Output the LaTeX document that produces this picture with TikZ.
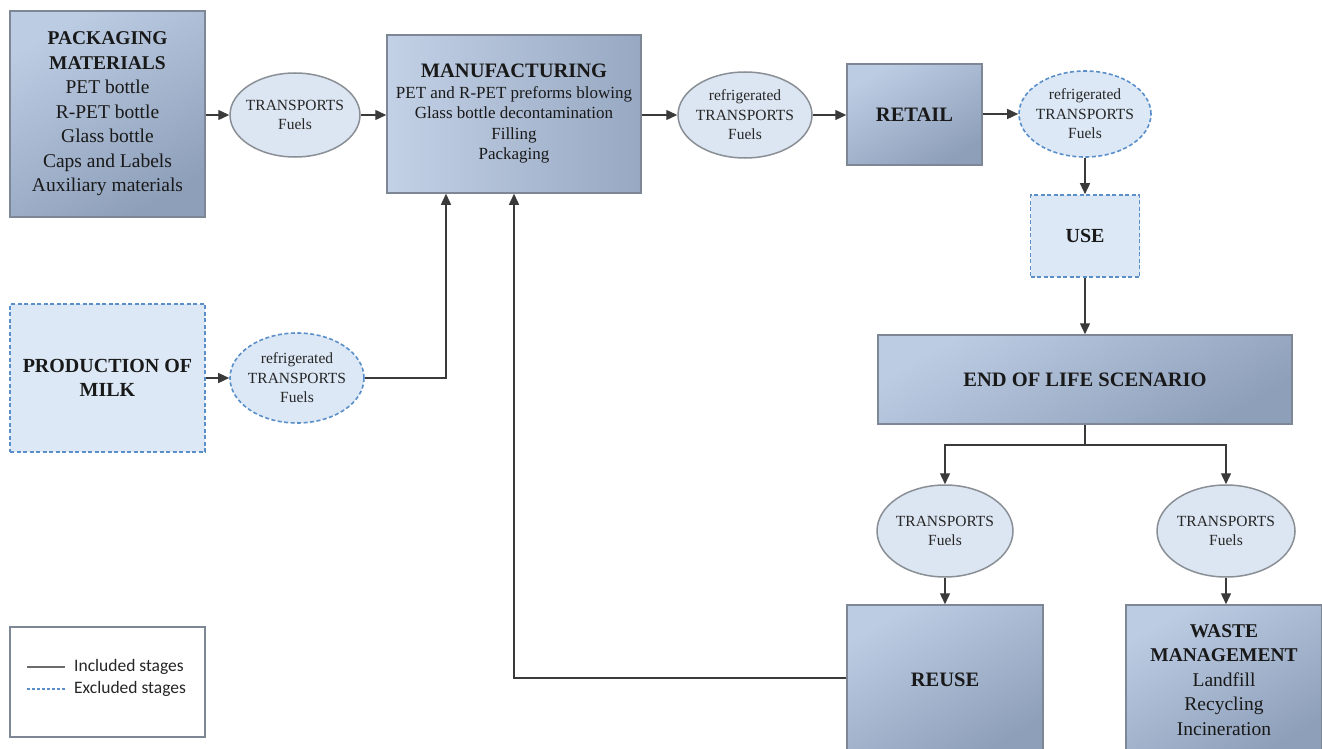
\documentclass[tikz,border=0pt]{standalone}
\usepackage{fontspec}
\setmainfont{Liberation Serif}
\newfontfamily\legendfont{Carlito}
\usetikzlibrary{arrows.meta,shapes.geometric,positioning}
\definecolor{boxlight}{HTML}{BCCCE3}
\definecolor{boxdark}{HTML}{8E9FBA}
\definecolor{boxedge}{HTML}{7D8795}
\definecolor{ellfill}{HTML}{DCE6F2}
\definecolor{elledge}{HTML}{8A8F96}
\definecolor{exfill}{HTML}{DCE8F6}
\definecolor{exedge}{HTML}{5B8FC9}
\definecolor{linecol}{HTML}{3A3A3A}
\tikzset{
  stagebox/.style={draw=boxedge, line width=1.5pt, shade, left color=boxlight, right color=boxdark, shading angle=30, align=center, inner sep=0pt, text=black!90},
  exbox/.style={draw=exedge, line width=1.6pt, dash pattern=on 4pt off 2.5pt, fill=exfill, align=center, inner sep=0pt, text=black!90},
  transell/.style={ellipse, draw=elledge, line width=1.5pt, fill=ellfill, align=center, inner sep=-14pt, font=\fontsize{15.5}{19.5}\selectfont, text=black!85},
  exell/.style={ellipse, draw=exedge, line width=1.6pt, dash pattern=on 4pt off 2.5pt, fill=exfill, align=center, inner sep=-14pt, font=\fontsize{15.5}{19.5}\selectfont, text=black!85},
  flow/.style={draw=linecol, line width=1.4pt, -{Triangle[length=11pt,width=10pt]}},
  plainline/.style={draw=linecol, line width=1.4pt},
}
\begin{document}
\begin{tikzpicture}[x=1pt,y=-1pt]
\useasboundingbox (0,0) rectangle (1322,749);
% boxes
\node[stagebox, minimum width=195pt, minimum height=206pt, font=\fontsize{19.5}{24.5}\selectfont] (pack) at (107.5,114)
 {\textbf{PACKAGING}\\\textbf{MATERIALS}\\PET bottle\\R-PET bottle\\Glass bottle\\Caps and Labels\\Auxiliary materials};
\node[transell, minimum width=130pt, minimum height=84pt] (t1) at (295,115) {TRANSPORTS\\Fuels};
\node[stagebox, minimum width=254pt, minimum height=158pt, left color=boxlight!90!white, right color=boxdark!80!boxlight, font=\fontsize{17}{20.5}\selectfont] (manu) at (514,114)
 {\fontsize{20.5}{24}\selectfont\textbf{MANUFACTURING}\\PET and R-PET preforms blowing\\Glass bottle decontamination\\Filling\\Packaging};
\node[transell, minimum width=134pt, minimum height=86pt] (t2) at (745,115) {refrigerated\\TRANSPORTS\\Fuels};
\node[stagebox, minimum width=135pt, minimum height=101pt, font=\fontsize{20.5}{24}\selectfont\bfseries] (retail) at (914.5,114.5) {RETAIL};
\node[exell, minimum width=132pt, minimum height=86pt] (t3) at (1085,114) {refrigerated\\TRANSPORTS\\Fuels};
\node[exbox, minimum width=109pt, minimum height=82pt, font=\fontsize{20}{24}\selectfont\bfseries] (use) at (1085,236) {USE};
\node[stagebox, minimum width=414pt, minimum height=89pt, font=\fontsize{20.5}{24}\selectfont\bfseries] (eol) at (1085,379.5) {END OF LIFE SCENARIO};
\node[transell, minimum width=136pt, minimum height=92pt] (t4) at (945,531) {TRANSPORTS\\Fuels};
\node[transell, minimum width=138pt, minimum height=92pt] (t5) at (1226,531) {TRANSPORTS\\Fuels};
\node[stagebox, minimum width=196pt, minimum height=150pt, font=\fontsize{20.5}{24}\selectfont\bfseries] (reuse) at (945,680) {REUSE};
\node[stagebox, minimum width=196pt, minimum height=150pt, font=\fontsize{19.5}{24.5}\selectfont] (waste) at (1224,680)
 {\textbf{WASTE}\\\textbf{MANAGEMENT}\\Landfill\\Recycling\\Incineration};
\node[exbox, minimum width=195pt, minimum height=148pt, font=\fontsize{20}{24.5}\selectfont\bfseries] (milk) at (107.5,378) {PRODUCTION OF\\MILK};
\node[exell, minimum width=134pt, minimum height=90pt] (t6) at (297,378) {refrigerated\\TRANSPORTS\\Fuels};
% legend
\node[draw=boxedge, line width=1.5pt, fill=white, minimum width=195pt, minimum height=110pt, inner sep=0pt] (legend) at (107.5,682) {};
\coordinate (li1) at (27,667);
\coordinate (li2) at (65,667);
\coordinate (le1) at (27,689);
\coordinate (le2) at (65,689);
\draw[draw=gray!85!black, line width=1.4pt] (li1) -- (li2);
\draw[draw=exedge, line width=1.4pt, dash pattern=on 3pt off 2pt] (le1) -- (le2);
\node[anchor=west, inner sep=0pt, font=\legendfont\fontsize{17.5}{19}\selectfont, text=black!85] (linc) at (74,667) {Included stages};
\node[anchor=west, inner sep=0pt, font=\legendfont\fontsize{17.5}{19}\selectfont, text=black!85] (lexc) at (74,689) {Excluded stages};
% connectors
\draw[flow] (pack.east |- t1) -- (t1.west);
\draw[flow] (t1.east) -- (t1.east -| manu.west);
\draw[flow] (manu.east |- t2) -- (t2.west);
\draw[flow] (t2.east) -- (t2.east -| retail.west);
\draw[flow] (retail.east |- t3) -- (t3.west);
\draw[flow] (t3.south) -- (t3.south |- use.north);
\draw[flow] (use.south) -- (use.south |- eol.north);
\coordinate (split) at (1085,445);
\draw[plainline] (eol.south) -- (split);
\draw[flow] (split) -| (t4.north);
\draw[flow] (split) -| (t5.north);
\draw[flow] (t4.south) -- (t4.south |- reuse.north);
\draw[flow] (t5.south) -- (t5.south |- waste.north);
\draw[flow] (milk.east |- t6) -- (t6.west);
\coordinate (mj) at (446,378);
\draw[flow] (t6.east) -- (mj) -- (mj |- manu.south);
\coordinate (rj) at (514,678);
\draw[flow] (reuse.west |- rj) -- (rj) -- (rj |- manu.south);
\end{tikzpicture}
\end{document}
